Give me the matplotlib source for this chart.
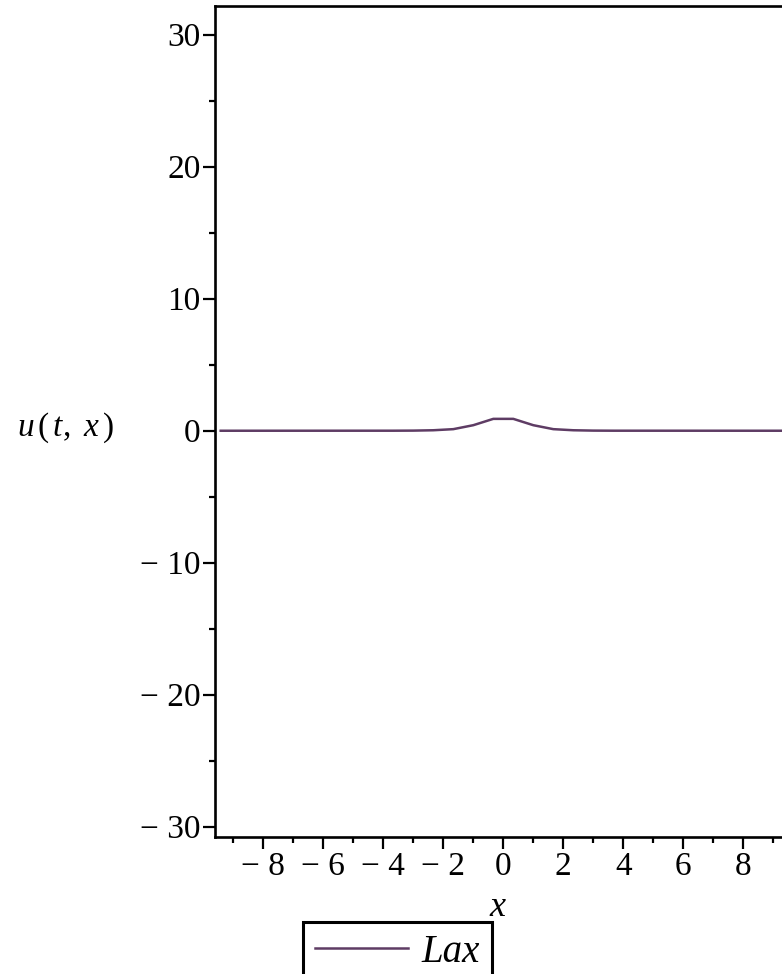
import matplotlib
matplotlib.use('Agg')
import matplotlib.pyplot as plt

# data
x_vals = [-9.42, -3.667, -3.0, -2.333, -1.667, -1.0, -0.333,
          0.333, 1.0, 1.667, 2.333, 3.0, 3.667, 9.42]
u_vals = [0.0, 0.003, 0.01, 0.037, 0.12, 0.42, 0.90,
          0.90, 0.42, 0.12, 0.037, 0.01, 0.003, 0.0]

x_ticks = [-8, -6, -4, -2, 0, 2, 4, 6, 8]
x_ticklabels = ['\u2212 8', '\u2212 6', '\u2212 4', '\u2212 2', '0', '2', '4', '6', '8']
y_ticks = [-30, -20, -10, 0, 10, 20, 30]
y_ticklabels = ['\u2212 30', '\u2212 20', '\u2212 10', '0', '10', '20', '30']
legend_label = 'Lax'

plt.rcParams['font.family'] = ['Liberation Serif', 'DejaVu Serif']
plt.rcParams['mathtext.fontset'] = 'custom'
plt.rcParams['mathtext.rm'] = 'Liberation Serif'
plt.rcParams['mathtext.it'] = 'Liberation Serif:italic'

W, H = 782, 974
fig = plt.figure(figsize=(W / 100, H / 100), dpi=100)
ax = fig.add_axes([215 / W, 1 - 837.3 / H, 1 - 215 / W + 0.01, (837.3 - 5.7) / H])

line, = ax.plot(x_vals, u_vals, color='#5e3c64', lw=1.8)

ax.set_xlim(-9.61, 9.29 + 0.01 * W / 30)
ax.set_ylim(-30.8, 32.2)

ax.set_xticks(x_ticks)
ax.set_xticklabels(x_ticklabels)
ax.set_xticks([-9, -7, -5, -3, -1, 1, 3, 5, 7, 9], minor=True)
ax.set_yticks(y_ticks)
ax.set_yticklabels(y_ticklabels)
ax.set_yticks([-25, -15, -5, 5, 15, 25], minor=True)

ax.tick_params(which='major', length=8.5, width=1.6, labelsize=24, pad=2)
ax.tick_params(which='minor', length=4, width=1.6)
ax.spines['right'].set_visible(False)
for s in ['left', 'bottom', 'top']:
    ax.spines[s].set_linewidth(1.9)

fig.text(17 / W, 1 - 428 / H, r'$u\,(\,t,\ x\,)$', fontsize=24, ha='left', va='center')
fig.text(498 / W, 1 - 908 / H, r'$x$', fontsize=26, ha='center', va='center')

leg = fig.legend([line], [legend_label], loc='upper left',
                 bbox_to_anchor=(303 / W, 1 - 922 / H), borderaxespad=0,
                 handlelength=2.4, handletextpad=0.35,
                 borderpad=0.3, fancybox=False, framealpha=1,
                 prop={'style': 'italic', 'size': 28})
leg.get_frame().set_edgecolor('black')
leg.get_frame().set_linewidth(2.2)

fig.savefig('out.png', dpi=100)
